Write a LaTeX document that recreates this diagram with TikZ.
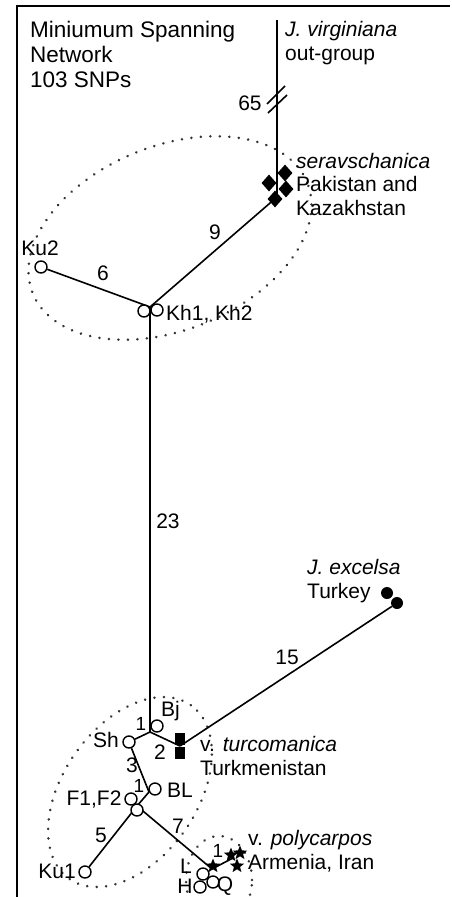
\documentclass[tikz,border=0pt]{standalone}
\usepackage{fontspec}
\setmainfont{Liberation Sans}
\usetikzlibrary{shapes.geometric,backgrounds}

\begin{document}
\begin{tikzpicture}[x=1pt, y=-1pt,
  every node/.style={inner sep=0pt},
  link/.style={black, line width=1.6pt},
  grp/.style={black!80, line width=2.8pt, line cap=round, dash pattern=on 0.01pt off 9.5pt},
  hap/.style={circle, draw, line width=1.4pt, fill=white, minimum size=12pt},
  dia/.style={diamond, fill=black, minimum width=15pt, minimum height=17pt},
  sq/.style={rectangle, fill=black, minimum width=10pt, minimum height=12pt},
  fulldot/.style={circle, fill=black, minimum size=12pt},
  st/.style={star, star points=5, star point ratio=2.3, fill=black, minimum size=15pt},
  lab/.style={font=\fontsize{21}{23.5}\selectfont, align=left, anchor=base west},
  num/.style={font=\fontsize{21}{23.5}\selectfont},
  smallnum/.style={font=\fontsize{19}{21}\selectfont}]
  \useasboundingbox (0,0) rectangle (452,897);
  \draw[line width=2pt] (17,897) -- (17,6) -- (450,6);

  % haplotypes
  \coordinate (vir) at (277,20);
  \coordinate (ser) at (277,197);
  \node[dia] (ser1) at (285,173) {};
  \node[dia] (ser2) at (269,183) {};
  \node[dia] (ser3) at (286,189) {};
  \node[dia] (ser4) at (275,199) {};
  \coordinate (kh) at (150,307);
  \node[hap] (kh1) at (144,311) {};
  \node[hap] (kh2) at (157,310) {};
  \node[hap] (ku2) at (41,267) {};
  \coordinate (bj) at (150,732);
  \node[hap] (bjc) at (157,726) {};
  \node[hap] (sh) at (129,742) {};
  \coordinate (tu) at (180,746);
  \node[sq] (tu1) at (180,739) {};
  \node[sq] (tu2) at (180,753) {};
  \node[fulldot] (ex1) at (387,593) {};
  \node[fulldot] (ex2) at (397,603) {};
  \coordinate (bl) at (149,792);
  \node[hap] (blc) at (155,789) {};
  \coordinate (ff) at (137,806);
  \node[hap] (f1) at (131,799) {};
  \node[hap] (f2) at (137,810) {};
  \node[hap] (ku1) at (85,872) {};
  \coordinate (po) at (212,869);
  \coordinate (pp) at (233,858);
  \node[hap] (lc) at (203,874) {};
  \node[hap] (hc) at (200,887) {};
  \node[hap] (qc) at (213,882) {};
  \node[st] (po0) at (213,866) {};
  \node[st] (po1) at (231,855) {};
  \node[st] (po2) at (240,853) {};
  \node[st] (po3) at (237,866) {};

  \begin{scope}[on background layer]
    \draw[grp, rotate around={22:(170,238)}] (170,238) ellipse (148pt and 92pt);
    \draw[grp, rotate around={55:(130,792)}] (130,792) ellipse (106pt and 67pt);
    \draw[grp] (219,880) ellipse (33pt and 44pt);
    \draw[link] (vir) -- (ser);
    \draw[link] (ser) -- (kh);
    \draw[link] (ku2) -- (kh);
    \draw[link] (kh) -- (bj);
    \draw[link] (bj) -- (sh);
    \draw[link] (bj) -- (tu);
    \draw[link] (tu) -- (ex2);
    \draw[link] (sh) -- (bl);
    \draw[link] (bl) -- (ff);
    \draw[link] (ff) -- (ku1);
    \draw[link] (ff) -- (po);
    \draw[link] (po) -- (pp);
  \end{scope}
  % break in the out-group branch
  \draw[link] (267,104) -- (285,86);
  \draw[link] (268,113) -- (287,95);

  % texts (base = last line)
  \node[lab, font=\fontsize{22.5}{25}\selectfont] (title) at (30,87)
    {Miniumum Spanning\\Network\\103 SNPs};
  \node[lab] (virtxt) at (285,60) {\textit{J. virginiana}\\out-group};
  \node[lab] (sertxt) at (296,215) {\textit{seravschanica}\\Pakistan and\\Kazakhstan};
  \node[lab] (khtxt) at (166,320) {Kh1, Kh2};
  \node[num] (ku2txt) at (40,248) {Ku2};
  \node[lab] (extxt) at (307,598) {\textit{J. excelsa}\\Turkey};
  \node[lab] (bjtxt) at (161,716) {Bj};
  \node[num] (shtxt) at (106,740) {Sh};
  \node[lab] (tutxt) at (200,775) {v. \textit{turcomanica}\\Turkmenistan};
  \node[num] (bltxt) at (180,790) {BL};
  \node[num] (ftxt) at (94,800) {F1,F2};
  \node[num] (ku1txt) at (57,871) {Ku1};
  \node[num] (ltxt) at (186,866) {L};
  \node[num] (htxt) at (185,886) {H};
  \node[num] (qtxt) at (225,886) {Q};
  \node[lab] (potxt) at (248,869) {v. \textit{polycarpos}\\Armenia, Iran};

  % steps
  \node[num] (n65) at (250,103) {65};
  \node[num] (n9) at (215,232) {9};
  \node[num] (n6) at (103,273) {6};
  \node[num] (n23) at (168,521) {23};
  \node[num] (n15) at (287,657) {15};
  \node[smallnum] (n1a) at (141,724) {1};
  \node[num] (n2) at (160,752) {2};
  \node[num] (n3) at (132,765) {3};
  \node[smallnum] (n1b) at (139,786) {1};
  \node[num] (n5) at (101,835) {5};
  \node[num] (n7) at (178,826) {7};
  \node[smallnum] (n1c) at (218,851) {1};
\end{tikzpicture}
\end{document}
